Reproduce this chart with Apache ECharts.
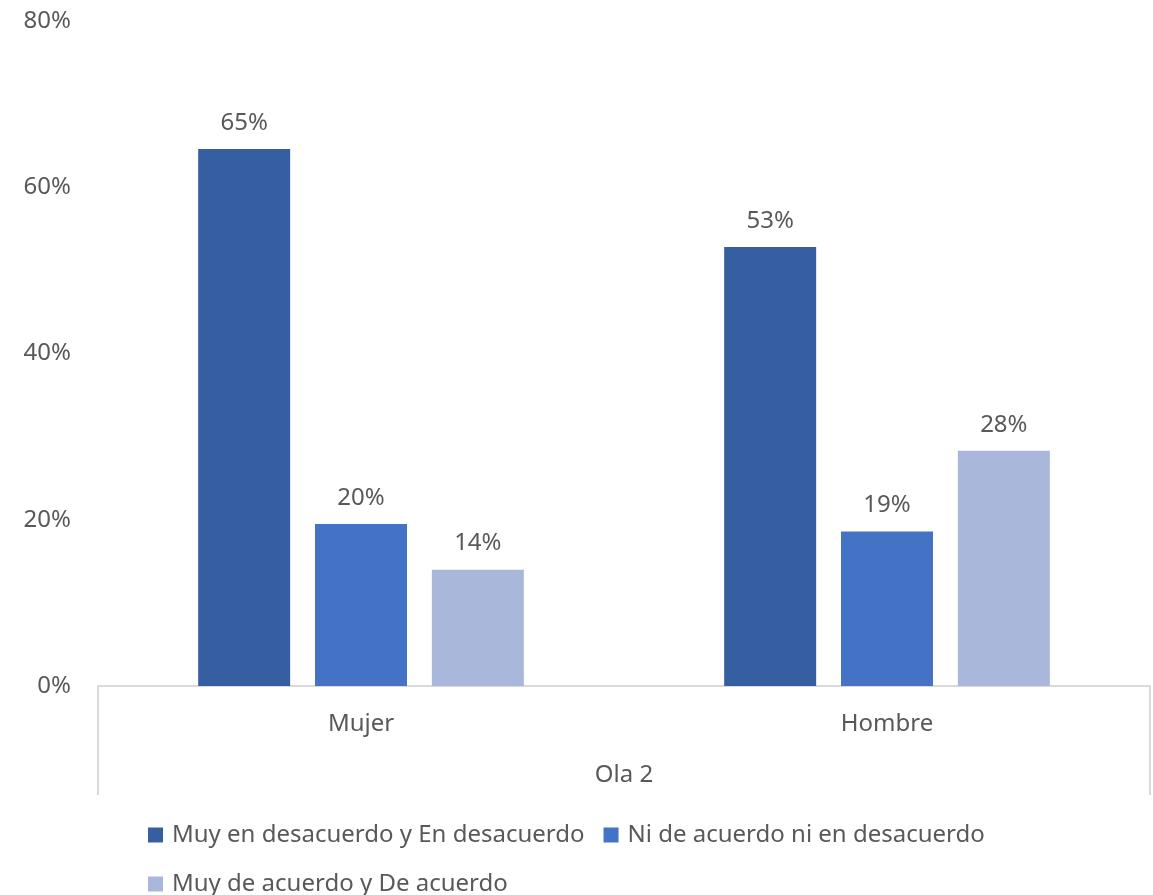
<!DOCTYPE html>
<html><head><meta charset="utf-8">
<script src="https://cdn.jsdelivr.net/npm/echarts@6/dist/echarts.min.js"></script>
<style>html,body{margin:0;padding:0;background:#fff}#c{width:1153px;height:895px}</style>
</head><body><div id="c"></div>
<script>
const categories = ['Mujer', 'Hombre'];
const outerCategory = ['Ola 2'];
const seriesNames = ['Muy en desacuerdo y En desacuerdo', 'Ni de acuerdo ni en desacuerdo', 'Muy de acuerdo y De acuerdo'];
const s1 = [64.6, 52.8];
const s2 = [19.5, 18.6];
const s3 = [14.0, 28.3];
const colors = ['#365FA2', '#4472C4', '#A9B7DA'];
const FONT = 'Noto Sans';
const TXT = '#595959';
const FS = 24;
const chart = echarts.init(document.getElementById('c'));
const mk = (name, data, i) => ({
  name, type: 'bar', data, barWidth: 92, barGap: '27%',
  itemStyle: {color: colors[i]},
  label: {show: true, position: 'top', distance: 14, formatter: p => Math.round(p.value) + '%', color: TXT, fontSize: FS, fontFamily: FONT}
});
chart.setOption({
  animation: false,
  textStyle: {fontFamily: FONT},
  grid: {left: 98, right: 3, top: 21, bottom: 209},
  legend: {
    data: seriesNames, left: 148, top: 820, width: 900, itemWidth: 15, itemHeight: 15, itemGap: 19, padding: 0,
    textStyle: {color: TXT, fontSize: FS, fontFamily: FONT, lineHeight: 30, padding: [0, 0, 0, 4]}, icon: 'rect'
  },
  xAxis: [{
    type: 'category', data: categories, position: 'bottom',
    axisLine: {show: true, lineStyle: {color: '#D9D9D9', width: 2}},
    axisTick: {show: false},
    axisLabel: {color: TXT, fontSize: FS, fontFamily: FONT, margin: 26}
  }, {
    type: 'category', data: outerCategory, position: 'bottom',
    axisLine: {show: true, lineStyle: {color: '#D9D9D9', width: 2}},
    axisTick: {show: true, length: 109, lineStyle: {color: '#D9D9D9', width: 2}},
    axisLabel: {color: TXT, fontSize: FS, fontFamily: FONT, margin: 77}
  }],
  yAxis: {
    type: 'value', min: 0, max: 80, interval: 20,
    splitLine: {show: false}, axisLine: {show: false}, axisTick: {show: false},
    axisLabel: {formatter: '{value}%', color: TXT, fontSize: FS, fontFamily: FONT, margin: 27}
  },
  series: [mk(seriesNames[0], s1, 0), mk(seriesNames[1], s2, 1), mk(seriesNames[2], s3, 2)]
});
</script></body></html>
